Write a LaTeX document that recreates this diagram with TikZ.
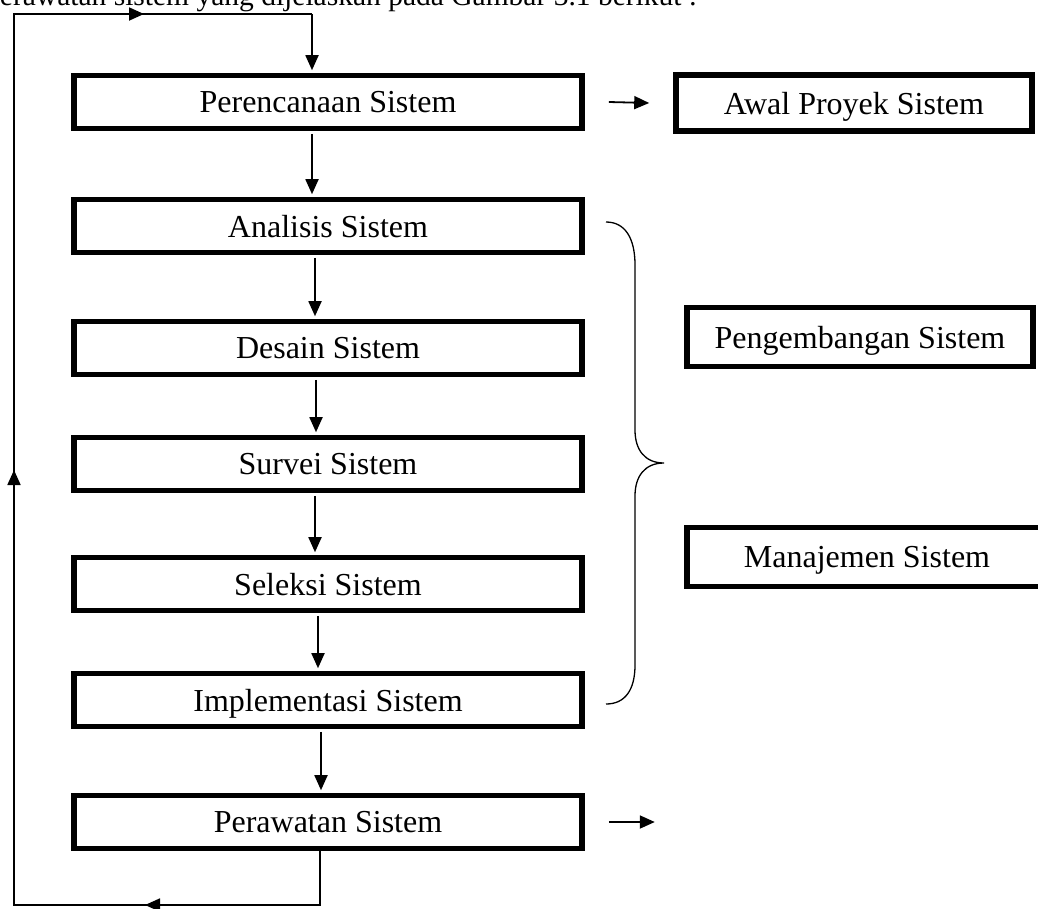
\documentclass[tikz,border=0pt]{standalone}
\usepackage{fontspec}
\setmainfont{Liberation Serif}
\usetikzlibrary{arrows.meta}

\tikzset{
  stage/.style={draw, line width=5.6pt, minimum width=508pt, minimum height=53pt,
    inner sep=0pt, text depth=0pt, font=\fontsize{32}{38}\selectfont},
  flow/.style={line width=1.8pt, -{Triangle[length=15pt,width=13pt]}},
  link/.style={line width=1.8pt},
}

\begin{document}
\begin{tikzpicture}[x=1pt,y=-1pt]
  \useasboundingbox (0,0) rectangle (1038,908);
  \clip (0,0) rectangle (1038,908);

  \node[anchor=base west, inner sep=0pt, font=\fontsize{29.5}{35}\selectfont] (intro)
    at (-15,5) {perawatan sistem yang dijelaskan pada Gambar 3.1 berikut :};

  % tahapan siklus
  \node[stage] (plan) at (328,102) {Perencanaan Sistem};
  \node[stage] (anal) at (328,226) {Analisis Sistem};
  \node[stage] (desn) at (328,348) {Desain Sistem};
  \node[stage] (surv) at (328,464) {Survei Sistem};
  \node[stage] (selk) at (328,584) {Seleksi Sistem};
  \node[stage] (impl) at (328,700) {Implementasi Sistem};
  \node[stage] (care) at (328,822) {Perawatan Sistem};

  % keterangan kanan
  \node[stage, minimum width=356pt, minimum height=56pt] (awal) at (854,103) {Awal Proyek Sistem};
  \node[stage, minimum width=346pt, minimum height=59pt] (dev) at (860,337) {Pengembangan Sistem};
  \node[stage, minimum width=360pt, minimum height=59pt] (mgmt) at (867,557) {Manajemen Sistem};

  \foreach \a/\b/\s in {plan/anal/-16, anal/desn/-13, desn/surv/-12, surv/selk/-13, selk/impl/-10, impl/care/-7}
    \draw[flow, shorten <=2.5pt, shorten >=2.5pt] ([xshift=\s pt]\a.south) -- ([xshift=\s pt]\b.north);

  \draw[flow] ([xshift=24pt]plan.east) -- ([xshift=-24pt]awal.west);
  \coordinate (next) at ([xshift=70pt]care.east);
  \draw[flow] ([xshift=24pt]care.east) -- (next);

  % umpan balik
  \coordinate (tl) at (14,14);
  \coordinate (bl) at (14,905);
  \coordinate (tmid) at (144,14);
  \coordinate (bmid) at (145,905);
  \coordinate (lmid) at (14,470);
  \coordinate (cb) at ([xshift=-8pt]care.south);
  \coordinate (pt) at ([xshift=-16pt]plan.north);
  \draw[link] (cb) -- (cb |- bl) -- (bl) -- (tl) -- (tl -| pt);
  \draw[flow] (cb |- bl) -- (bmid);
  \draw[flow] (bl) -- (lmid);
  \draw[flow] (tl) -- (tmid);
  \draw[flow, shorten >=2.5pt] (tl -| pt) -- (pt);

  % kurung kurawal
  \draw[line width=1.3pt] (606,222) .. controls (625,222) and (635,238) .. (635,265)
    -- (635,430) .. controls (635,450) and (645,463) .. (664,463)
    .. controls (645,463) and (635,476) .. (635,496)
    -- (635,665) .. controls (635,690) and (625,704) .. (606,704);
\end{tikzpicture}
\end{document}
